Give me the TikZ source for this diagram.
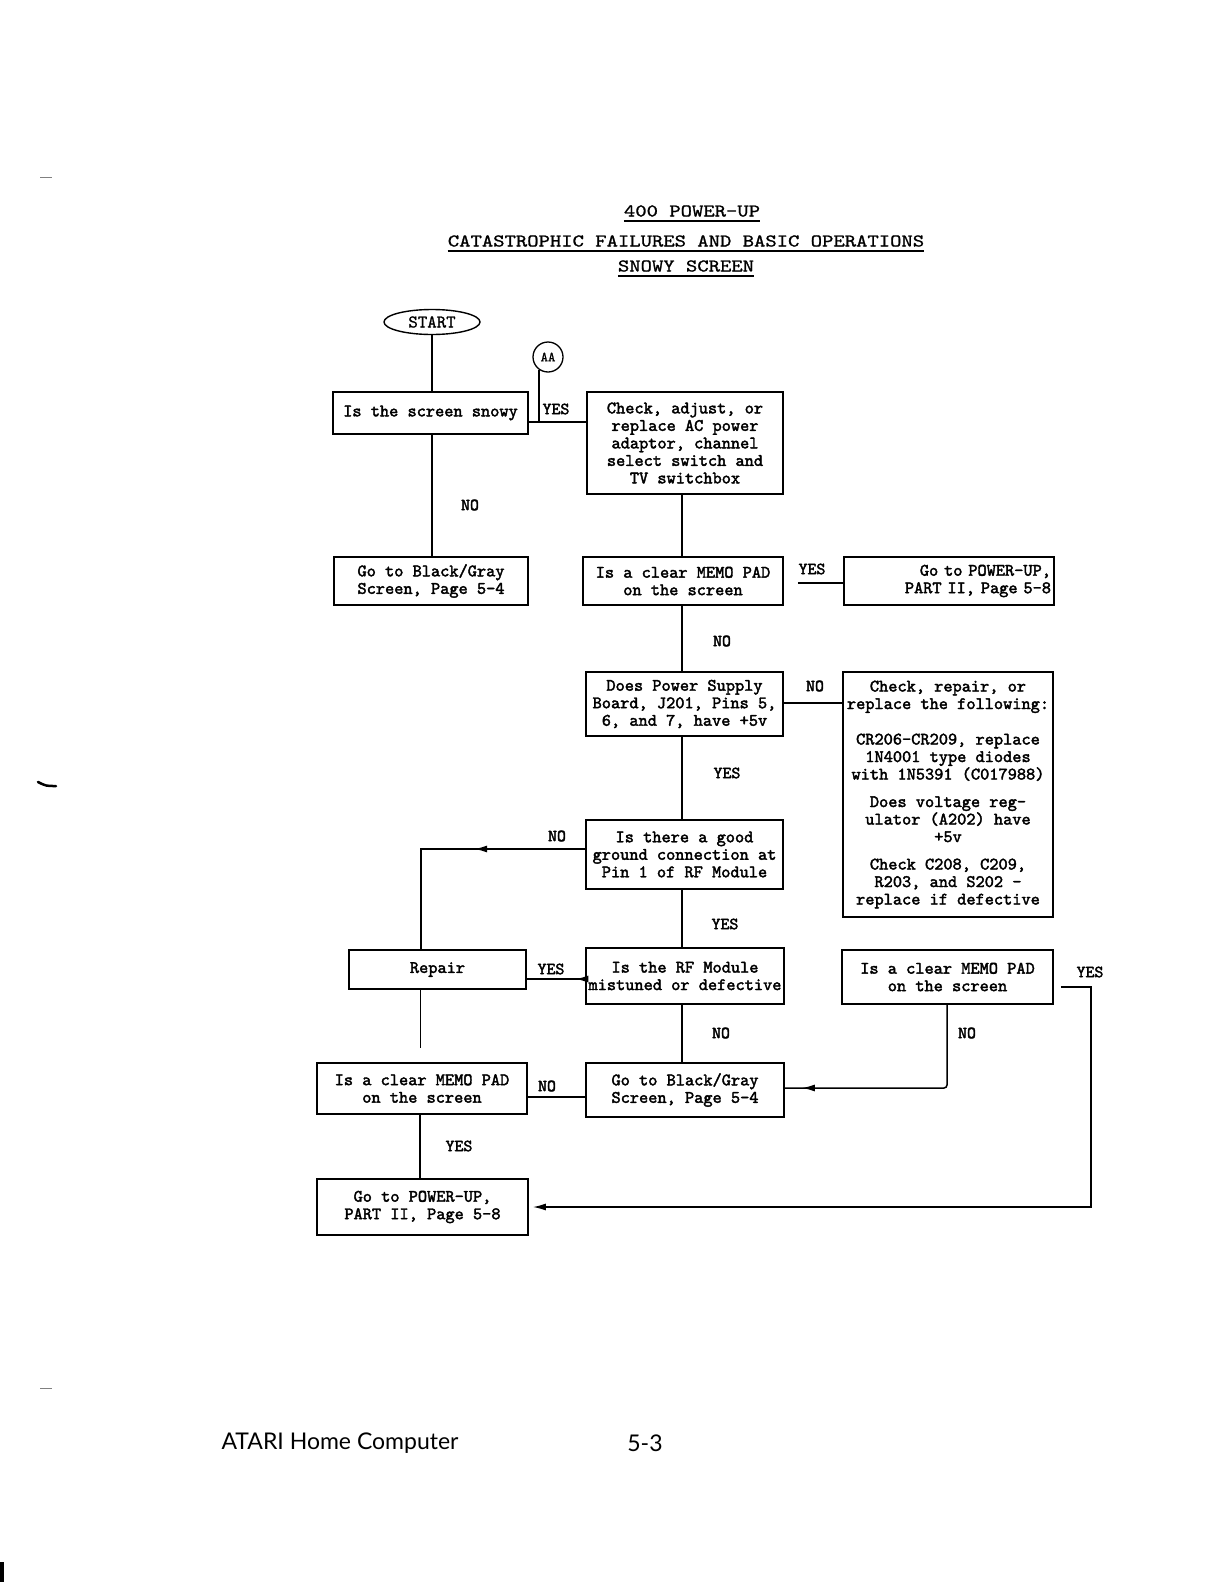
\documentclass[tikz,border=0pt]{standalone}
\usepackage{fontspec}
\usepackage{graphicx}
\setmonofont{lmmono10-regular}[Extension=.otf, AutoFakeBold=2.2]
\newfontfamily\ttlfont{lmmono10-regular}[Extension=.otf, FakeBold=1.0]
\newfontfamily\footfont{Lato}
\usetikzlibrary{shapes.geometric,arrows.meta,decorations.markings}
\tikzset{
  box/.style={draw, line width=1.6pt, rectangle, inner sep=2pt, align=center,
    font=\ttfamily\bfseries\fontsize{17.5}{17.5}\selectfont},
  conn/.style={line width=1.5pt},
  lbl/.style={font=\ttfamily\bfseries\fontsize{17}{17}\selectfont, inner sep=0pt},
  ttl/.style={font=\ttlfont\fontsize{18}{20}\selectfont, inner sep=0pt},
  midarrow/.style={postaction={decorate}, decoration={markings,
    mark=at position #1 with {\arrow{Latex[length=13pt,width=7pt]}}}},
}
\begin{document}
\begin{tikzpicture}[x=1pt,y=-1pt]
\useasboundingbox (0,0) rectangle (1224,1582);
\fill[white] (0,0) rectangle (1224,1582);

% title
\node[ttl] (t1) at (692,211) {\scalebox{1.2}[1]{400 POWER-UP}};
\node[ttl] (t2) at (686,241) {\scalebox{1.2}[1]{CATASTROPHIC FAILURES AND BASIC OPERATIONS}};
\node[ttl] (t3) at (686,266) {\scalebox{1.2}[1]{SNOWY SCREEN}};
\draw[line width=1.4pt] ([yshift=-4pt]t1.south west) -- ([yshift=-4pt]t1.south east);
\draw[line width=1.4pt] ([yshift=-4pt]t2.south west) -- ([yshift=-4pt]t2.south east);
\draw[line width=1.4pt] ([yshift=-4pt]t3.south west) -- ([yshift=-4pt]t3.south east);

% helper coordinates
\coordinate (lx) at (432,0);
\coordinate (vx) at (682,0);
\coordinate (rx) at (421,0);
\coordinate (rx2) at (420,0);
\coordinate (bx) at (947,0);
\coordinate (cx) at (1091,0);
\coordinate (y422) at (0,422);
\coordinate (y583) at (0,583);
\coordinate (y703) at (0,703);
\coordinate (y849) at (0,849);
\coordinate (y979) at (0,979);
\coordinate (y1097) at (0,1097);
\coordinate (y1088) at (0,1088);
\coordinate (y987) at (0,987);
\coordinate (y1207) at (0,1207);

% nodes
\node[draw, ellipse, line width=1.4pt, minimum width=96pt, minimum height=25pt, inner sep=0pt,
  font=\ttlfont\fontsize{18}{18}\selectfont] (start) at (432,322) {START};
\node[draw, circle, line width=1.3pt, minimum size=30pt, inner sep=0pt,
  font=\ttlfont\fontsize{14}{15}\selectfont] (aa) at (548,357) {AA};

\node[box, minimum width=195pt, minimum height=42pt] (b1) at (430.5,413) {Is the screen snowy};
\node[box, minimum width=196pt, minimum height=102pt] (b2) at (685,443)
  {Check, adjust, or\\replace AC power\\adaptor, channel\\select switch and\\TV switchbox};
\node[box, minimum width=194pt, minimum height=48pt] (b3) at (431,581) {Go to Black/Gray\\Screen, Page 5-4};
\node[box, minimum width=200pt, minimum height=48pt] (b4) at (683,581) {Is a clear MEMO PAD\\on the screen};
\node[box, minimum width=210pt, minimum height=48pt, text width=204pt, align=right] (b5) at (949,581)
  {Go to POWER-UP,\\PART II, Page 5-8};
\node[box, minimum width=197pt, minimum height=64pt] (b6) at (684.5,704)
  {Does Power Supply\\Board, J201, Pins 5,\\6, and 7, have +5v};
\node[box, minimum width=210pt, minimum height=245pt] (b7) at (948,794.5)
  {Check, repair, or\\replace the following:\\[18pt]CR206-CR209, replace\\1N4001 type diodes\\with 1N5391 (C017988)\\[10pt]Does voltage reg-\\ulator (A202) have\\+5v\\[10pt]Check C208, C209,\\R203, and S202 -\\replace if defective};
\node[box, minimum width=197pt, minimum height=69pt] (b8) at (684.5,854.5)
  {Is there a good\\ground connection at\\Pin 1 of RF Module};
\node[box, minimum width=177pt, minimum height=39pt] (rep) at (437.5,969.5) {Repair};
\node[box, minimum width=198pt, minimum height=56pt] (rf) at (685,976) {Is the RF Module\\mistuned or defective};
\node[box, minimum width=211pt, minimum height=54pt] (b13) at (947.5,977) {Is a clear MEMO PAD\\on the screen};
\node[box, minimum width=198pt, minimum height=54pt] (b10) at (685,1090) {Go to Black/Gray\\Screen, Page 5-4};
\node[box, minimum width=210pt, minimum height=51pt] (b11) at (422,1088.5) {Is a clear MEMO PAD\\on the screen};
\node[box, minimum width=211pt, minimum height=56pt] (b12) at (422.5,1207) {Go to POWER-UP,\\PART II, Page 5-8};

% connectors
\draw[conn] (start.south) -- (start.south |- b1.north);
\draw[conn] (b1.south -| lx) -- (b3.north -| lx);
\draw[conn] (aa.235) -- (aa.235 |- y422);
\draw[conn] (b1.east |- y422) -- (b2.west |- y422);
\draw[conn] (b2.south -| vx) -- (b4.north -| vx);
\draw[conn, shorten <=14pt] (b4.east |- y583) -- (b5.west |- y583);
\draw[conn] (b4.south -| vx) -- (b6.north -| vx);
\draw[conn] (b6.east |- y703) -- (b7.west |- y703);
\draw[conn] (b6.south -| vx) -- (b8.north -| vx);
\draw[conn, midarrow=0.42] (b8.west |- y849) -| (rep.north -| rx);
\draw[conn] (b8.south -| vx) -- (rf.north -| vx);
\draw[conn, midarrow=0.17] (rf.west |- y979) -- (rep.east |- y979);
\draw[conn] (rf.south -| vx) -- (b10.north -| vx);
\draw[line width=0.9pt, shorten >=14pt] (rep.south -| rx2) -- (b11.north -| rx2);
\draw[conn] (b10.west |- y1097) -- (b11.east |- y1097);
\draw[conn] (b11.south -| rx2) -- (b12.north -| rx2);
\draw[conn, rounded corners=3pt, midarrow=0.93] (b13.south -| bx) -- (bx |- y1088) -- (b10.east |- y1088);
\draw[conn, shorten <=7pt, shorten >=4pt, -{Latex[length=13pt,width=7pt]}]
  (b13.east |- y987) -- (cx |- y987) -- (cx |- y1207) -- (b12.east |- y1207);

% labels
\node[lbl] (l1) at (556,409) {YES};
\node[lbl] (l2) at (470,505) {NO};
\node[lbl] (l3) at (812,569) {YES};
\node[lbl] (l4) at (722,641) {NO};
\node[lbl] (l5) at (815,686) {NO};
\node[lbl] (l6) at (727,773) {YES};
\node[lbl] (l7) at (557,836) {NO};
\node[lbl] (l8) at (725,924) {YES};
\node[lbl] (l9) at (551,969) {YES};
\node[lbl] (l10) at (721,1033) {NO};
\node[lbl] (l11) at (547,1086) {NO};
\node[lbl] (l12) at (459,1146) {YES};
\node[lbl] (l13) at (967,1033) {NO};
\node[lbl] (l14) at (1090,972) {YES};

% footer
\node[font=\footfont\fontsize{23}{26}\selectfont, inner sep=0pt] (foot) at (340,1443) {ATARI Home Computer};
\node[font=\footfont\fontsize{23}{26}\selectfont, inner sep=0pt] (pg) at (645,1443) {5-3};

% scan marks
\draw[line width=0.8pt, gray] (40,177) -- (52,177);
\draw[line width=2.5pt, line cap=round] (38,782) .. controls (46,786) .. (56,786);
\draw[line width=0.8pt, gray] (40,1388) -- (52,1388);
\fill (0,1562) rectangle (4,1582);
\end{tikzpicture}
\end{document}
